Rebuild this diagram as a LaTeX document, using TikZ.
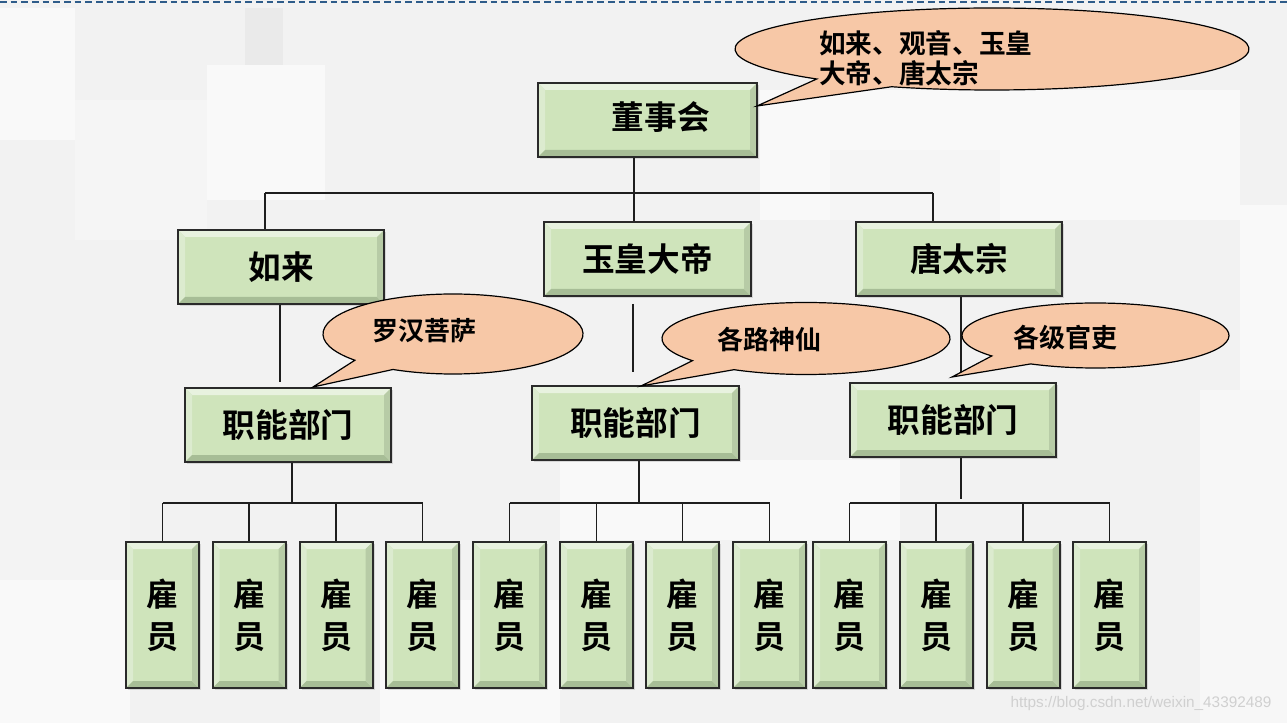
\documentclass[tikz,border=0pt]{standalone}
\usepackage{fontspec}
\newfontfamily\cjkb{Noto Sans CJK SC Bold}
\newfontfamily\wmfont{Liberation Sans}
\usetikzlibrary{calc,shadows}
\definecolor{bgbase}{HTML}{F2F2F2}
\definecolor{bgwhite}{HTML}{F9F9F9}
\definecolor{bggray}{HTML}{EAEAEA}
\definecolor{dashblue}{HTML}{2E5C8A}
\definecolor{boxfill}{HTML}{CFE4BB}
\definecolor{bevtop}{HTML}{E8F2DF}
\definecolor{bevleft}{HTML}{DCEBCF}
\definecolor{bevbot}{HTML}{A7BD96}
\definecolor{bevright}{HTML}{B7CBA6}
\definecolor{boxline}{HTML}{2A2A2A}
\definecolor{callfill}{HTML}{F7C8A7}
\definecolor{connline}{HTML}{1E1E1E}
\definecolor{wmgray}{HTML}{D0D0D0}
\tikzset{
  gbox/.style={draw=boxline, line width=1.5pt, fill=boxfill, inner sep=0pt,
    drop shadow={shadow xshift=1.5pt, shadow yshift=-1.5pt, opacity=0.25},
    path picture={
      \fill[bevtop] (path picture bounding box.north west) -- (path picture bounding box.north east)
        -- ([shift={(-7,7)}]path picture bounding box.north east) -- ([shift={(7,7)}]path picture bounding box.north west) -- cycle;
      \fill[bevleft] (path picture bounding box.north west) -- (path picture bounding box.south west)
        -- ([shift={(7,-7)}]path picture bounding box.south west) -- ([shift={(7,7)}]path picture bounding box.north west) -- cycle;
      \fill[bevbot] (path picture bounding box.south west) -- (path picture bounding box.south east)
        -- ([shift={(-7,-7)}]path picture bounding box.south east) -- ([shift={(7,-7)}]path picture bounding box.south west) -- cycle;
      \fill[bevright] (path picture bounding box.north east) -- (path picture bounding box.south east)
        -- ([shift={(-7,-7)}]path picture bounding box.south east) -- ([shift={(-7,7)}]path picture bounding box.north east) -- cycle;
    }},
  bigbox/.style={gbox, minimum width=154.5pt, minimum height=55.5pt, font=\cjkb\fontsize{24.5}{28}\selectfont},
  ebox/.style={gbox, minimum width=54.75pt, minimum height=109.5pt, align=center, font=\cjkb\fontsize{24}{31.5}\selectfont},
  callout/.style={draw=black, line width=0.9pt, fill=callfill},
  calltext/.style={inner sep=0pt, font=\cjkb\fontsize{19.5}{23}\selectfont},
  conn/.style={draw=connline, line width=1.1pt}
}
\begin{document}
\begin{tikzpicture}[x=0.75pt,y=-0.75pt]
\useasboundingbox (0,0) rectangle (1287,723);
% background
\fill[bgbase] (0,0) rectangle (1287,723);
\fill[bgwhite] (0,8) rectangle (75,140);
\fill[bggray] (245,8) rectangle (283,65);
\fill[bgwhite] (207,65) rectangle (325,200);
\fill[bggray!50] (75,100) rectangle (207,240);
\fill[bgwhite] (0,580) rectangle (130,723);
\fill[bggray!60] (0,470) rectangle (130,580);
\fill[bgwhite] (760,90) rectangle (1240,220);
\fill[bggray!50] (830,150) rectangle (1000,220);
\fill[bgwhite] (1240,205) rectangle (1287,390);
\fill[bggray!40] (1200,390) rectangle (1287,723);
\fill[bgwhite] (380,600) rectangle (560,723);
\fill[bggray!30] (560,460) rectangle (900,540);
\draw[dashblue, line width=1.2pt, dash pattern=on 5pt off 3pt] (0,2) -- (1287,2);

% boxes
\node[bigbox, minimum width=164.25pt] (board) at (647.5,120) {\raisebox{6pt}{\hspace*{20pt}董事会}};
\node[bigbox] (rulai) at (281,267) {如来};
\node[bigbox, minimum width=155.25pt] (yuhuang) at (647.5,259) {玉皇大帝};
\node[bigbox] (tang) at (959,259) {唐太宗};
\node[bigbox] (dept1) at (288,425) {职能部门};
\node[bigbox, minimum width=155.25pt] (dept2) at (635.5,423) {职能部门};
\node[bigbox] (dept3) at (953,420) {职能部门};

\foreach \i/\x in {1/162.5,2/249,3/336,4/422.5,5/509.5,6/596.5,7/682.5,8/769.5,9/849.5,10/936,11/1023,12/1109.5}
  \node[ebox] (e\i) at (\x,615) {雇\\员};

% connectors: top level
\coordinate (j0) at (634,193);
\coordinate (hL) at (265,193);
\coordinate (hR) at (933,193);
\draw[conn] (board.south -| j0) -- (yuhuang.north -| j0);
\draw[conn] (hL) -- (hR);
\draw[conn] (hL) -- (hL |- rulai.north);
\draw[conn] (hR) -- (hR |- tang.north);

% second level
\coordinate (v1) at (280,0);
\coordinate (v2) at (633,0);
\coordinate (v3) at (961,0);
\draw[conn] (rulai.south -| v1) -- ($(dept1.north -| v1)+(0,-5)$);
\draw[conn] ($(yuhuang.south -| v2)+(0,7)$) -- ($(dept2.north -| v2)+(0,-13)$);
\draw[conn] (tang.south -| v3) -- ($(dept3.north -| v3)+(0,-8)$);

% third level
\coordinate (g1) at (292,503);
\coordinate (g2) at (639,503);
\coordinate (g3) at (961,503);
\draw[conn] (dept1.south -| g1) -- (g1);
\draw[conn] (dept2.south -| g2) -- (g2);
\draw[conn] (dept3.south -| g3) -- ($(g3)+(0,-4)$);
\draw[conn] (e1.north |- g1) -- (e4.north |- g1);
\draw[conn] (e5.north |- g2) -- (e8.north |- g2);
\draw[conn] (e9.north |- g3) -- (e12.north |- g3);
\foreach \i in {1,...,4} \draw[conn] (e\i.north |- g1) -- (e\i.north);
\foreach \i in {5,...,8} \draw[conn] (e\i.north |- g2) -- (e\i.north);
\foreach \i in {9,...,12} \draw[conn] (e\i.north |- g3) -- (e\i.north);

% callouts
\coordinate (c0) at (992,49);
\coordinate (tip0) at (757,106);
\draw[callout] (tip0) -- ([shift={(133:257 and 41)}]c0) arc[start angle=133, end angle=473, x radius=257, y radius=41] -- cycle;
\node[calltext, anchor=west, align=left, font=\cjkb\fontsize{20}{22.5}\selectfont] (t0) at (819,58) {如来、观音、玉皇\\大帝、唐太宗};

\coordinate (c1) at (453,334);
\coordinate (tip1) at (313,387);
\draw[callout] (tip1) -- ([shift={(139:130 and 40)}]c1) arc[start angle=139, end angle=477.5, x radius=130, y radius=40] -- cycle;
\node[calltext] (t1) at (424,331) {罗汉菩萨};

\coordinate (c2) at (806,338.5);
\coordinate (tip2) at (641,386);
\draw[callout] (tip2) -- ([shift={(142:144 and 36)}]c2) arc[start angle=142, end angle=480, x radius=144, y radius=36] -- cycle;
\node[calltext] (t2) at (769,340) {各路神仙};

\coordinate (c3) at (1095.5,335.5);
\coordinate (tip3) at (952,377);
\draw[callout] (tip3) -- ([shift={(141:133.5 and 32.5)}]c3) arc[start angle=141, end angle=479, x radius=133.5, y radius=32.5] -- cycle;
\node[calltext] (t3) at (1065,338) {各级官吏};

% watermark
\node[text=wmgray, inner sep=0pt, font=\wmfont\fontsize{11.5}{13}\selectfont] (wm) at (1141,704) {https://blog.csdn.net/weixin\_43392489};
\end{tikzpicture}
\end{document}
